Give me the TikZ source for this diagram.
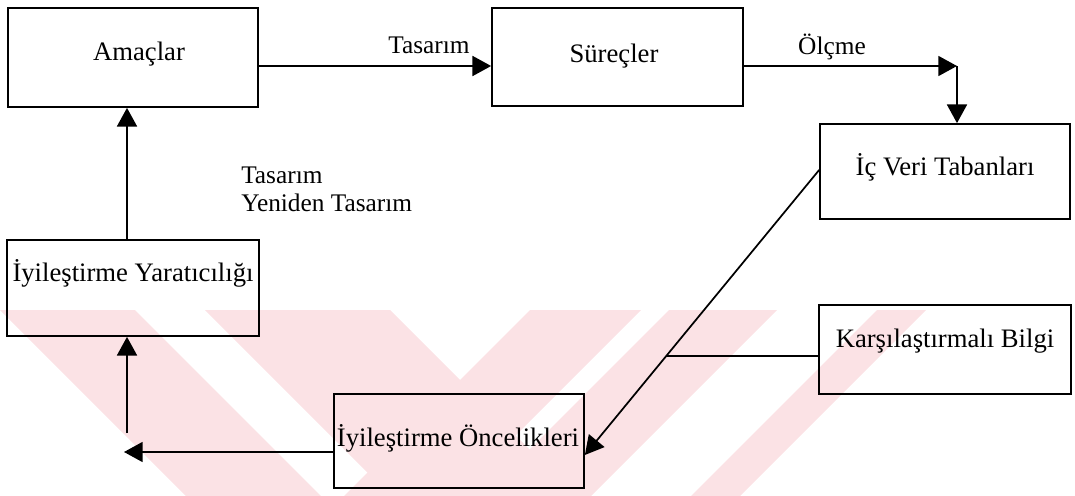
\documentclass[tikz,border=0pt]{standalone}
\usepackage{fontspec}
\setmainfont{Liberation Serif}
\usetikzlibrary{arrows.meta}

\definecolor{wmpink}{RGB}{251,226,229}

\tikzset{
  box/.style={draw, line width=1.3pt, inner sep=0pt, minimum width=#1},
  boxtext/.style={inner sep=0pt, anchor=base, font=\fontsize{20}{24}\selectfont},
  lbltext/.style={inner sep=0pt, anchor=base, font=\fontsize{19}{23}\selectfont},
  link/.style={line width=1.3pt, -{Triangle[length=14pt, width=15pt]}},
  plain/.style={line width=1.3pt},
}

\begin{document}
\begin{tikzpicture}[x=0.75pt, y=-0.75pt]
  \useasboundingbox (0,0) rectangle (1075,496);

  % pale chevron band behind the lower half
  \begin{scope}
    \clip (0,310) rectangle (1075,496);
    % left arm, two strokes
    \fill[wmpink] (0,310) -- (135,310) -- (321,496) -- (186,496) -- cycle;
    \fill[wmpink] (205,310) -- (390,310) -- (576,496) -- (391,496) -- cycle;
    % right arm, two strokes
    \fill[wmpink] (530,310) -- (641,310) -- (455,496) -- (344,496) -- cycle;
    \fill[wmpink] (669,310) -- (777,310) -- (591,496) -- (483,496) -- cycle;
    % outer stroke on the right
    \fill[wmpink] (877,310) -- (926,310) -- (740,496) -- (691,496) -- cycle;
  \end{scope}

  % boxes
  \node[box=187.5pt, minimum height=74.25pt] (amac)   at (133,57.5)  {};
  \node[box=188.25pt, minimum height=73.5pt] (surec)  at (617.5,57)  {};
  \node[box=187.5pt, minimum height=71.25pt] (icveri) at (945,171.5) {};
  \node[box=189pt, minimum height=66.75pt]   (karsi)  at (945,349.5) {};
  \node[box=189pt, minimum height=72pt]      (yarat)  at (133,288)   {};
  \node[box=187.5pt, minimum height=70.5pt]  (oncel)  at (459,441)   {};

  % box texts
  \node[boxtext] (amacT)   at (139,60)  {Amaçlar};
  \node[boxtext] (surecT)  at (614,62)  {Süreçler};
  \node[boxtext] (icveriT) at (945,175) {İç Veri Tabanları};
  \node[boxtext] (karsiT)  at (945,347) {Karşılaştırmalı Bilgi};
  \node[boxtext] (yaratT)  at (133,281) {İyileştirme Yaratıcılığı};
  \node[boxtext] (oncelT)  at (458,446) {İyileştirme Öncelikleri};

  % connector labels
  \node[lbltext] (lblTas) at (429,53) {Tasarım};
  \node[lbltext] (lblOlc) at (832,54) {Ölçme};
  \node[lbltext, anchor=base west] (lblTas2) at (241,183) {Tasarım};
  \node[lbltext, anchor=base west] (lblYen)  at (241,211) {Yeniden Tasarım};

  % helper points
  \coordinate (toprow) at (0,66);
  \coordinate (corner) at (957,66);
  \coordinate (dstart) at (0,170);
  \coordinate (dend)   at (0,455);
  \coordinate (krow)   at (0,356);
  \coordinate (lefttip) at (124,452);
  \coordinate (uptail)  at (127,433);

  % top row
  \draw[link] (amac.east |- toprow) -- (surec.west |- toprow);
  \draw[link] (surec.east |- toprow) -- (corner);
  \draw[link] (corner) -- (corner |- icveri.north);

  % diagonal feed from the data bases
  \coordinate (dA) at (icveri.west |- dstart);
  \coordinate (dB) at (oncel.east |- dend);
  \draw[link] (dA) -- (dB);
  \coordinate (kA) at (karsi.west |- krow);
  \coordinate (kB) at (0,356);
  \coordinate (junc) at (intersection of dA--dB and kA--kB);
  \draw[plain] (kA) -- (junc);

  % left loop
  \draw[link] (oncel.west |- lefttip) -- (lefttip);
  \draw[link] (uptail) -- (uptail |- yarat.south);
  \draw[link] (yarat.north -| uptail) -- (amac.south -| uptail);
\end{tikzpicture}
\end{document}
